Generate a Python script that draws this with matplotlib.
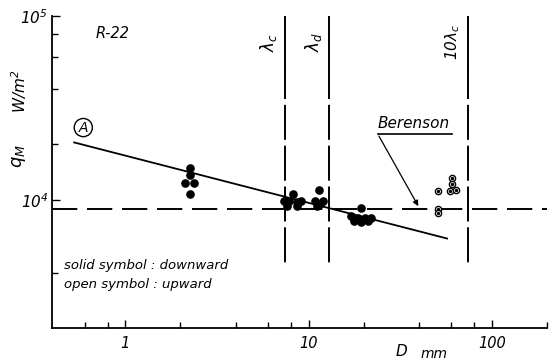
import matplotlib.pyplot as plt
import numpy as np

# solid symbols: downward
down_D = [2.26, 2.26, 2.12, 2.36, 2.26,
          8.18, 7.39, 7.87, 8.6, 9.15, 7.67, 8.7,
          11.4, 10.8, 11.96, 11.1, 11.6,
          19.4, 17.1, 18.6, 20.2, 22.0, 17.8, 19.4, 21.0]
down_q = [1.49e4, 1.36e4, 1.24e4, 1.24e4, 1.08e4,
          1.08e4, 9.87e3, 9.87e3, 9.66e3, 9.8e3, 9.27e3, 9.27e3,
          1.13e4, 9.8e3, 9.8e3, 9.27e3, 9.47e3,
          9.0e3, 8.18e3, 7.99e3, 7.99e3, 7.94e3, 7.68e3, 7.52e3, 7.68e3]

# open symbols: upward
up_D = [50.9, 61.0, 61.0, 59.3, 64.1, 50.9, 50.9]
up_q = [1.11e4, 1.31e4, 1.22e4, 1.11e4, 1.13e4, 8.9e3, 8.5e3]

# correlation (A) end points and Berenson level
lineA_D = [0.526, 57.0]
lineA_q = [2.05e4, 6.15e3]
berenson_q = 8.9e3

# characteristic diameters
lam_c = 7.45
lam_d = 13.0
lam_c10 = 74.0

plt.rcParams['font.family'] = 'DejaVu Sans'
plt.rcParams['font.style'] = 'italic'

fig = plt.figure(figsize=(5.57, 3.63), dpi=100)
ax = fig.add_axes([0.094, 0.096, 0.888, 0.860])
ax.set_xscale('log')
ax.set_yscale('log')
ax.set_xlim(0.4, 200)
ax.set_ylim(2000, 1e5)

for s in ['top', 'right']:
    ax.spines[s].set_visible(False)
for s in ['left', 'bottom']:
    ax.spines[s].set_linewidth(1.3)

ax.set_xticks([1, 10, 100])
ax.set_xticklabels(['1', '10', '100'], fontsize=10.5, style='italic')
ax.set_xticks([0.6, 0.8, 2, 4, 6, 8, 20, 40, 60, 80, 200], minor=True)
ax.set_yticks([1e4, 1e5])
ax.set_yticklabels([r'$10^4$', r'$10^5$'], fontsize=11)
ax.set_yticks([4e3, 2e4, 4e4, 6e4, 8e4], minor=True)
ax.yaxis.set_minor_formatter(plt.NullFormatter())
ax.xaxis.set_minor_formatter(plt.NullFormatter())
ax.tick_params(which='both', direction='in', width=1, color='black')
ax.tick_params(which='major', length=6)
ax.tick_params(which='minor', length=4)
ax.tick_params(axis='x', pad=6)
ax.tick_params(axis='y', pad=3)

# Berenson dashed line
ax.plot([0.4, 200], [berenson_q, berenson_q], color='black', lw=1.4,
        dashes=(13, 5))

# vertical lines
for d in [lam_c, lam_d, lam_c10]:
    ax.plot([d, d], [1e5, 5.5e4], color='black', lw=1.4)
    ax.plot([d, d], [5.5e4, 4450], color='black', lw=1.4, dashes=(18, 3))

ax.text(lam_c * 0.93, 7.2e4, r'$\lambda_c$', rotation=90, ha='right',
        va='center', fontsize=12)
ax.text(lam_d * 0.93, 7.2e4, r'$\lambda_d$', rotation=90, ha='right',
        va='center', fontsize=12)
ax.text(lam_c10 * 0.93, 7.2e4, r'$10\lambda_c$', rotation=90, ha='right',
        va='center', fontsize=11)

# line (A)
ax.plot(lineA_D, lineA_q, color='black', lw=1.3)
ax.text(0.59, 2.47e4, 'A', fontsize=10, ha='center', va='center',
        bbox=dict(boxstyle='circle,pad=0.15', fc='white', ec='black', lw=1))

ax.scatter(down_D, down_q, s=27, color='black', zorder=5)
ax.scatter(up_D, up_q, s=20, facecolor='white', edgecolor='black',
           linewidth=1, zorder=5)
ax.scatter(up_D, up_q, s=2, color='black', zorder=6)

# Berenson label
ax.text(37.5, 2.37e4, 'Berenson', fontsize=11, ha='center', va='bottom')
ax.plot([23.8, 61], [2.29e4, 2.29e4], color='black', lw=1.2)
ax.annotate('', xy=(40.4, 8.95e3), xytext=(23.8, 2.29e4),
            arrowprops=dict(arrowstyle='-|>', color='black', lw=0.9,
                            mutation_scale=8))

ax.text(0.69, 7.6e4, 'R-22', fontsize=10.5)
ax.text(0.465, 4.2e3, 'solid symbol : downward', fontsize=9.5)
ax.text(0.465, 3.3e3, 'open symbol : upward', fontsize=9.5)

fig.text(0.035, 0.57, r'$q_M$', rotation=90, fontsize=13, ha='center',
         va='center')
fig.text(0.035, 0.75, r'$W/m^2$', rotation=90, fontsize=11, ha='center',
         va='center')
fig.text(0.71, 0.02, 'D', fontsize=11)
fig.text(0.755, 0.015, 'mm', fontsize=10)

fig.savefig('out.png', dpi=100)
